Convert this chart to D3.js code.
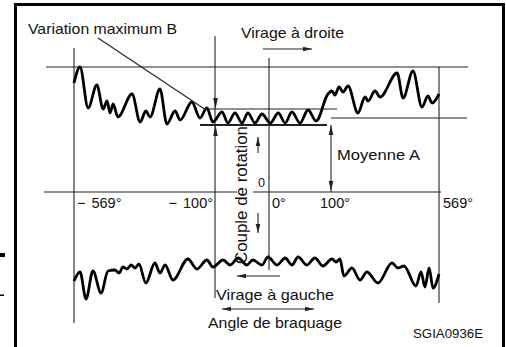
<!DOCTYPE html>
<html><head><meta charset="utf-8">
<script src="https://cdn.jsdelivr.net/npm/d3@7/dist/d3.min.js"></script>
<style>
html,body{margin:0;padding:0;background:#fff;}
svg{display:block;}
text{font-family:"Liberation Sans",Arial,Helvetica,sans-serif;fill:#111;}
</style></head><body>
<svg id="chart" width="506" height="347"></svg>
<script>
// Steering angle breakpoints (degrees) and their labels
const angleTicks = [-569, -100, 0, 100, 569];
const tickLabels = ["569°", "100°", "0°", "100°", "569°"];
const tickSigns  = ["−", "−", "", "", ""];

// Torque reference levels
const torqueMax = 125;   // upper limit line
const bandHigh = 83;     // top of variation band (B)
const bandLow = 67;      // bottom of variation band / mean level (A)
const torqueMean = 74;

// Right turn torque trace (steering angle in degrees, torque)
const rightAngle = [-569,-549,-522,-493,-472,-459,-449,-439,-423,-376,-349,-330,-316,-283,-260,-233,-216,-177,-150,-127,-107,
  -87,-76,-63,-50,-39,-26,-13,2,15,26,37,50,63,76,95,104,117,135,152,174,217,248,261,291,313,387,413,456,495,521,539,569];
const rightTorque = [109,125,84,107,83,91,79,88,75,98,70,81,75,103,68,81,72,90,74,84,70,
  80,69,79,69,79,69,78,69,79,69,80,69,82,71,98,101,97,105,100,106,79,95,91,101,95,119,94,121,85,96,89,98];

// Left turn torque trace
const leftAngle = [-569,-549,-529,-506,-479,-456,-433,-419,-406,-393,-379,-366,-353,-330,-300,-283,-266,-240,-190,-160,-127,-107,
  -85,-72,-57,-41,-30,-13,-2,13,26,37,47,61,74,87,104,122,139,156,191,226,256,304,365,391,417,469,491,508,526,543,569];
const leftTorque = [-89,-80,-107,-79,-101,-79,-78,-81,-75,-77,-73,-76,-72,-91,-71,-81,-73,-88,-67,-77,-68,-75,
  -68,-73,-66,-73,-68,-73,-65,-73,-66,-73,-65,-73,-66,-74,-67,-70,-67,-84,-76,-88,-80,-91,-71,-76,-74,-94,-80,-95,-76,-96,-82];

const svg = d3.select("#chart");

// Piecewise angle scale and torque scale
const x = d3.scaleLinear().domain(angleTicks).range([74, 215, 269, 331, 439]);
const y = d3.scaleLinear().domain([0, torqueMax]).range([192, 67]);

const ink = "#222";
function hline(y0, x1, x2, w = 1.1, c = ink) {
  svg.append("line").attr("x1", x1).attr("x2", x2).attr("y1", y0).attr("y2", y0)
    .attr("stroke", c).attr("stroke-width", w);
}
function vline(x0, y1, y2, w = 1.1, c = ink) {
  svg.append("line").attr("x1", x0).attr("x2", x0).attr("y1", y1).attr("y2", y2)
    .attr("stroke", c).attr("stroke-width", w);
}
function head(px, py, dir, len = 9, hw = 2.3) {
  let p;
  if (dir === "down") p = [[px, py], [px - hw, py - len], [px + hw, py - len]];
  if (dir === "up") p = [[px, py], [px - hw, py + len], [px + hw, py + len]];
  if (dir === "left") p = [[px, py], [px + len, py - hw], [px + len, py + hw]];
  if (dir === "right") p = [[px, py], [px - len, py - hw], [px - len, py + hw]];
  svg.append("path").attr("d", "M" + p.map(d => d.join(",")).join("L") + "Z").attr("fill", ink);
}
function label(t, px, py, size, len, anchor = "start") {
  return svg.append("text").attr("x", px).attr("y", py).attr("font-size", size)
    .attr("text-anchor", anchor).attr("textLength", len).attr("lengthAdjust", "spacingAndGlyphs").text(t);
}

// Frame
svg.append("rect").attr("x", 15.5).attr("y", 4.5).attr("width", 488).attr("height", 400)
  .attr("fill", "none").attr("stroke", "#000").attr("stroke-width", 3);
svg.append("rect").attr("x", 0).attr("y", 253).attr("width", 5).attr("height", 4).attr("fill", "#000");
svg.append("rect").attr("x", 0).attr("y", 294.5).attr("width", 4).attr("height", 1.5).attr("fill", "#000");

// Reference lines
hline(y(torqueMax), 46, 468);
hline(y(torqueMean), x(100), 467);
vline(x(-569), 48, 323);
vline(x(-100), 36, 298);
vline(x(0), 58, 270);
vline(x(569), y(torqueMax), 303);
// zero-torque axis, interrupted by the vertical title
hline(y(0), 44, 237);
hline(y(0), 253, 441);

// Variation band
hline(y(bandHigh), 205, 337);
hline(y(bandLow), 200, 327, 2);

// Traces
const line = d3.line().x(d => x(d[0])).y(d => y(d[1])).curve(d3.curveMonotoneX);
svg.append("path").datum(d3.zip(rightAngle, rightTorque)).attr("d", line)
  .attr("fill", "none").attr("stroke", "#000").attr("stroke-width", 2.8).attr("stroke-linejoin", "round");
svg.append("path").datum(d3.zip(leftAngle, leftTorque)).attr("d", line)
  .attr("fill", "none").attr("stroke", "#000").attr("stroke-width", 2.8).attr("stroke-linejoin", "round");

// Leader to band
svg.append("line").attr("x1", 98).attr("y1", 38).attr("x2", 206).attr("y2", 110)
  .attr("stroke", ink).attr("stroke-width", 1.1);

// Band width arrows (B)
head(x(-100) + 0.5, y(bandHigh), "down", 11);
head(x(-100) + 0.5, y(bandLow), "up", 11);

// Mean arrows (A)
vline(x(100), y(bandLow), y(0));
head(x(100), y(bandLow), "up", 10);
head(x(100), y(0) - 1, "down", 10);

// Torque direction arrows
vline(258, 137, 153);
head(258, 137, "up", 9);
vline(258, 213, 233);
head(258, 233, "down", 9);

// Turn direction arrows
hline(49, 263, 312);
head(312, 49, "right", 9);
hline(276, 237, 280);
head(237, 276, "left", 9);
hline(309, 222, 314);
head(222, 309, "left", 9);
head(314, 309, "right", 9);

// Angle tick labels
const tickPos = [
  {dx: 3, anchor: "start"},
  {dx: -2, anchor: "end"},
  {dx: 3, anchor: "start"},
  {dx: -11, anchor: "start"},
  {dx: 4, anchor: "start"}
];
angleTicks.forEach((a, i) => {
  const t = svg.append("text").attr("x", x(a) + tickPos[i].dx).attr("y", 208)
    .attr("font-size", 14.5).attr("text-anchor", tickPos[i].anchor);
  if (tickSigns[i]) {
    t.append("tspan").text(tickSigns[i]);
    t.append("tspan").attr("dx", 6).text(tickLabels[i]);
  } else {
    t.text(tickLabels[i]);
  }
});
label("0", 258, 187, 13, 7);

// Titles and annotations
label("Variation maximum B", 28, 34, 15, 149);
label("Virage à droite", 241, 38, 15, 103);
label("Moyenne A", 337, 160, 15, 83);
label("Virage à gauche", 216, 300, 15, 118);
label("Angle de braquage", 208, 328, 15, 134);
label("SGIA0936E", 413, 338, 12, 70);
svg.append("text").attr("transform", "translate(247,195) rotate(-90)")
  .attr("font-size", 16).attr("text-anchor", "middle")
  .attr("textLength", 138).attr("lengthAdjust", "spacingAndGlyphs").text("Couple de rotation");
</script>
</body></html>
